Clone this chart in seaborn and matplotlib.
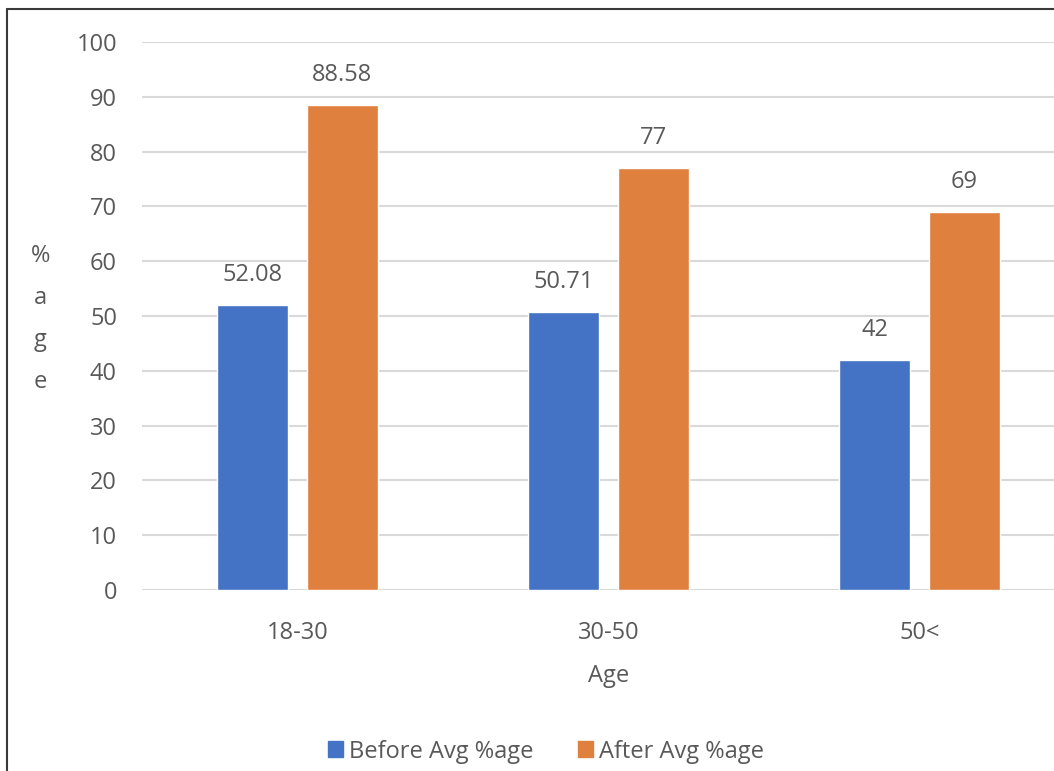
import matplotlib
matplotlib.use("Agg")
import matplotlib.pyplot as plt
from matplotlib.lines import Line2D
import pandas as pd
import seaborn as sns

# Chart data
age_groups = ["18-30", "30-50", "50<"]
series_names = ["Before Avg %age", "After Avg %age"]
before_avg = [52.08, 50.71, 42]
after_avg = [88.58, 77, 69]
y_ticks = [0, 10, 20, 30, 40, 50, 60, 70, 80, 90, 100]

colors = ["#4472C4", "#E0803F"]
text_color = "#595959"
grid_color = "#D9D9D9"

df = pd.DataFrame({
    "Age": age_groups * 2,
    "Series": [series_names[0]] * len(age_groups) + [series_names[1]] * len(age_groups),
    "Value": before_avg + after_avg,
})

sns.set_theme(style="white")
plt.rcParams["font.family"] = ["Open Sans", "DejaVu Sans"]

fig = plt.figure(figsize=(10.54, 7.71), dpi=100)
ax = fig.add_axes([142 / 1054, 181 / 771, 933 / 1054, 548 / 771])

sns.barplot(data=df, x="Age", y="Value", hue="Series", palette=colors,
            width=0.575, gap=0.207, saturation=1, ax=ax, legend=False, zorder=3)

ax.set_xlim(-0.5, 2.5)
ax.set_ylim(0, 100)
ax.set_yticks(y_ticks)
ax.yaxis.grid(True, color=grid_color, linewidth=1.5, zorder=0)
ax.xaxis.grid(False)
for s in ax.spines.values():
    s.set_visible(False)
ax.tick_params(axis="both", length=0, labelsize=17, colors=text_color)
ax.tick_params(axis="y", pad=18)
ax.tick_params(axis="x", pad=22)

ax.set_xlabel("Age", fontsize=17, color=text_color, labelpad=14)
ax.set_ylabel("%\na\ng\ne", fontsize=17, color=text_color, rotation=0,
              va="center", linespacing=2.0)
ax.yaxis.set_label_coords(-0.109, 0.495)

# value labels above each bar
for container in ax.containers:
    labels = [f"{v:g}" for v in container.datavalues]
    ax.bar_label(container, labels=labels, padding=13, fontsize=17, color=text_color)

handles = [plt.Rectangle((0, 0), 1, 1, color=c) for c in colors]
fig.legend(handles, series_names, loc="lower center", bbox_to_anchor=(0.518, -0.018),
           ncol=2, frameon=False, fontsize=17, labelcolor=text_color,
           handlelength=0.65, handleheight=0.65, handletextpad=0.25, columnspacing=1.9)

# outer frame on the left and top
fig.add_artist(Line2D([7 / 1054, 7 / 1054], [0, 1 - 9 / 771], transform=fig.transFigure,
                      color="#3A3A3A", linewidth=1.5))
fig.add_artist(Line2D([7 / 1054, 1], [1 - 9 / 771, 1 - 9 / 771], transform=fig.transFigure,
                      color="#3A3A3A", linewidth=1.5))

fig.savefig("out.png", dpi=100)
